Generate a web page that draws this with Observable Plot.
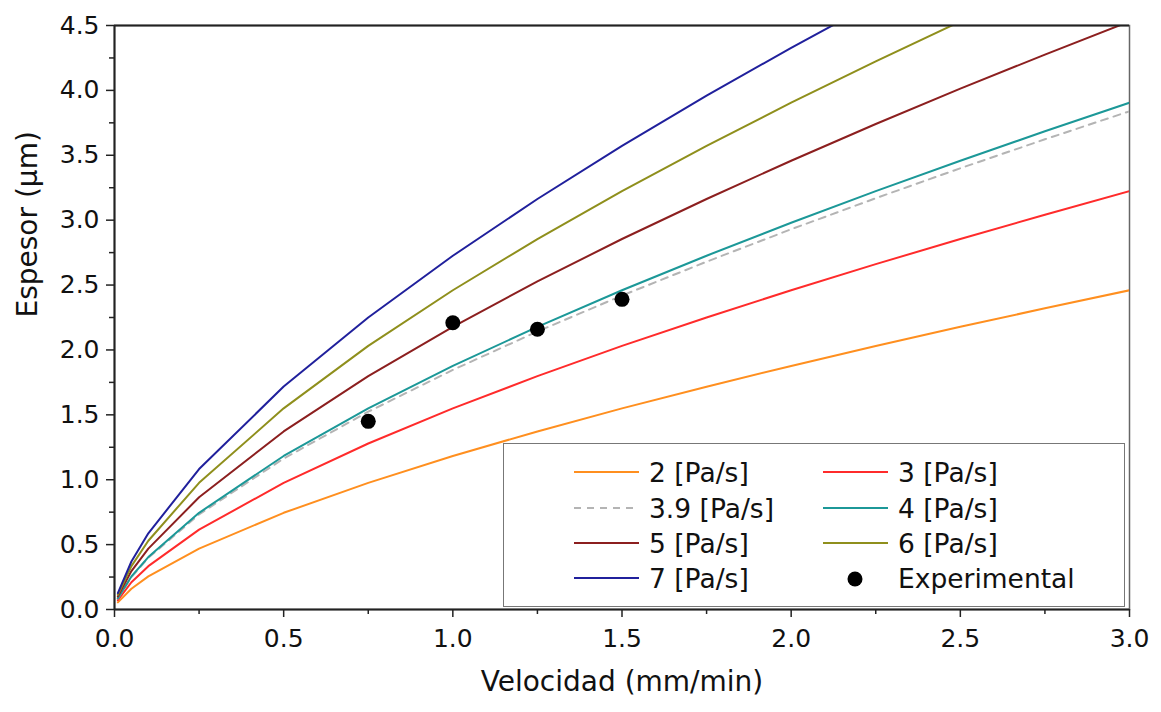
<!DOCTYPE html>
<html>
<head>
<meta charset="utf-8">
<script src="https://cdn.jsdelivr.net/npm/d3@7"></script>
<script src="https://cdn.jsdelivr.net/npm/@observablehq/plot@0.6"></script>
<style>
  html, body { margin: 0; padding: 0; background: #fff; }
  #wrap { position: relative; width: 1161px; height: 712px; }
  #legend {
    position: absolute; left: 503px; top: 443px; width: 620px; height: 162px;
    border: 1.5px solid #777; background: #fff; box-sizing: content-box;
    font-family: "DejaVu Sans", Verdana, sans-serif; font-size: 26.5px; color: #111;
  }
  .item { position: absolute; height: 30px; display: flex; align-items: center; }
  .item svg { display: block; }
  .item span { margin-left: 10px; white-space: nowrap; }
</style>
</head>
<body>
<div id="wrap"></div>
<script>
// ---- data ----
const velocidad = [0.01, 0.05, 0.1, 0.25, 0.5, 0.75, 1.0, 1.25, 1.5, 1.75, 2.0, 2.25, 2.5, 2.75, 3.0];
const visc2  = [0.055, 0.160, 0.255, 0.469, 0.745, 0.976, 1.183, 1.372, 1.550, 1.717, 1.877, 2.031, 2.178, 2.321, 2.460];
const visc3  = [0.072, 0.210, 0.334, 0.615, 0.976, 1.279, 1.550, 1.798, 2.031, 2.250, 2.460, 2.661, 2.855, 3.042, 3.224];
const visc39 = [0.086, 0.250, 0.398, 0.733, 1.163, 1.524, 1.846, 2.142, 2.419, 2.680, 2.930, 3.169, 3.400, 3.623, 3.839];
const visc4  = [0.087, 0.255, 0.404, 0.745, 1.183, 1.550, 1.877, 2.178, 2.460, 2.726, 2.980, 3.224, 3.458, 3.685, 3.905];
const visc5  = [0.101, 0.296, 0.469, 0.865, 1.372, 1.798, 2.178, 2.528, 2.855, 3.163, 3.458, 3.741, 4.013, 4.276, 4.531];
const visc6  = [0.114, 0.334, 0.530, 0.976, 1.550, 2.031, 2.460, 2.854, 3.223, 3.572, 3.905, 4.224, 4.531];
const visc7  = [0.126, 0.370, 0.587, 1.082, 1.718, 2.250, 2.726, 3.163, 3.572, 3.959, 4.328, 4.681];

const expVel = [0.75, 1.0, 1.25, 1.5];
const expEsp = [1.45, 2.21, 2.16, 2.39];

const seriesNames  = ["2 [Pa/s]", "3 [Pa/s]", "3.9 [Pa/s]", "4 [Pa/s]", "5 [Pa/s]", "6 [Pa/s]", "7 [Pa/s]"];
const seriesValues = [visc2, visc3, visc39, visc4, visc5, visc6, visc7];
const seriesColors = ["#ff8f1f", "#ff2b2b", "#b4b4b4", "#1c9898", "#8c1f1f", "#8f8f1c", "#20209c"];
const seriesDashed = [false, false, true, false, false, false, false];

const xTicks = [0, 0.5, 1.0, 1.5, 2.0, 2.5, 3.0];
const xMinor = [0.25, 0.75, 1.25, 1.75, 2.25, 2.75];
const yTicks = [0, 0.5, 1.0, 1.5, 2.0, 2.5, 3.0, 3.5, 4.0, 4.5];
const yMinor = [0.25, 0.75, 1.25, 1.75, 2.25, 2.75, 3.25, 3.75, 4.25];

// legend order (two columns, row-major)
const legendOrder = ["2 [Pa/s]", "3 [Pa/s]", "3.9 [Pa/s]", "4 [Pa/s]", "5 [Pa/s]", "6 [Pa/s]", "7 [Pa/s]", "Experimental"];

// ---- build tables ----
const rows = [];
seriesNames.forEach((name, i) => {
  seriesValues[i].forEach((v, j) => rows.push({serie: name, x: velocidad[j], y: v}));
});
const experimental = expVel.map((x, i) => ({x, y: expEsp[i]}));

const fmt = d3.format(".1f");
const tickFont = "DejaVu Sans, sans-serif";

const lineMarks = seriesNames.map((name, i) =>
  Plot.line(rows.filter(r => r.serie === name), {
    x: "x", y: "y", stroke: seriesColors[i], strokeWidth: 2,
    strokeDasharray: seriesDashed[i] ? "7,6" : null, clip: true
  })
);

const chart = Plot.plot({
  width: 1161, height: 712,
  marginLeft: 114, marginRight: 32, marginTop: 25, marginBottom: 103,
  style: {fontFamily: tickFont, background: "#fff", color: "#111"},
  x: {domain: [0, 3]},
  y: {domain: [0, 4.5]},
  marks: [
    Plot.frame({stroke: "#666", strokeWidth: 1.5}),
    ...lineMarks,
    Plot.dot(experimental, {x: "x", y: "y", r: 7.5, fill: "#000", stroke: "none"}),
    Plot.axisX({ticks: xTicks, tickSize: 8, tickPadding: 12, tickFormat: fmt, fontSize: 25, label: null, stroke: "#222", strokeWidth: 1.5}),
    Plot.axisX({ticks: xMinor, tickSize: 5, tickFormat: () => "", label: null, stroke: "#222", strokeWidth: 1.5}),
    Plot.axisY({ticks: yTicks, tickSize: 8, tickPadding: 7, tickFormat: fmt, fontSize: 25, label: null, stroke: "#222", strokeWidth: 1.5}),
    Plot.axisY({ticks: yMinor, tickSize: 5, tickFormat: () => "", label: null, stroke: "#222", strokeWidth: 1.5}),
    Plot.ruleX([0], {stroke: "#222", strokeWidth: 2}),
    Plot.ruleY([0], {stroke: "#222", strokeWidth: 2}),
    Plot.ruleY([4.5], {stroke: "#222", strokeWidth: 2}),
    Plot.text(["Velocidad (mm/min)"], {frameAnchor: "bottom", dy: 81, fontSize: 28, fill: "#111"}),
    Plot.text(["Espesor (µm)"], {frameAnchor: "left", dx: -86, rotate: -90, fontSize: 28, fill: "#111"})
  ]
});

const wrap = document.getElementById("wrap");
wrap.appendChild(chart);

// ---- legend (HTML overlay) ----
const legend = document.createElement("div");
legend.id = "legend";
const rowTops = [13, 49, 84, 119];
const colLine = [70, 319];
legendOrder.forEach((name, k) => {
  const row = Math.floor(k / 2), col = k % 2;
  const item = document.createElement("div");
  item.className = "item";
  item.style.left = colLine[col] + "px";
  item.style.top = rowTops[row] + "px";
  const idx = seriesNames.indexOf(name);
  const svg = d3.create("svg").attr("width", 65).attr("height", 30);
  if (idx >= 0) {
    svg.append("line").attr("x1", 0).attr("x2", 65).attr("y1", 15).attr("y2", 15)
      .attr("stroke", seriesColors[idx]).attr("stroke-width", 2.2)
      .attr("stroke-dasharray", seriesDashed[idx] ? "7,6" : null);
  } else {
    svg.append("circle").attr("cx", 32).attr("cy", 16).attr("r", 7.5).attr("fill", "#000");
  }
  item.appendChild(svg.node());
  const span = document.createElement("span");
  span.textContent = name;
  item.appendChild(span);
  legend.appendChild(item);
});
wrap.appendChild(legend);
</script>
</body>
</html>
